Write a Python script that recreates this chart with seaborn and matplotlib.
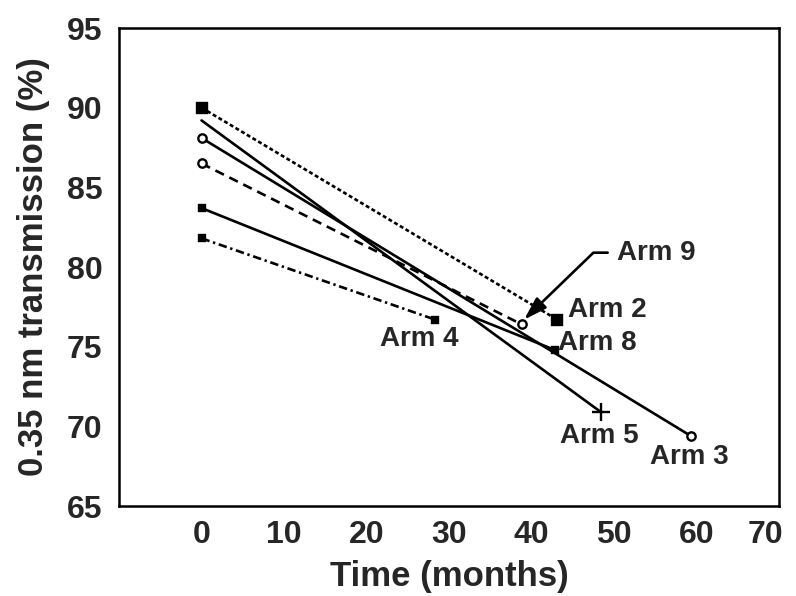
import pandas as pd
import matplotlib
matplotlib.use("Agg")
import matplotlib.pyplot as plt
import matplotlib.transforms as mtransforms
import seaborn as sns

# values
arms = ["Arm 2", "Arm 5", "Arm 3", "Arm 9", "Arm 8", "Arm 4"]
t_start = [0, 0, 0, 0, 0, 0]
t_end = [43.1, 48.4, 59.3, 38.8, 42.8, 28.3]
y_start = [90.0, 89.2, 88.1, 86.5, 83.7, 81.8]
y_end = [76.7, 70.9, 69.4, 76.4, 74.8, 76.7]

x_ticks = [0, 10, 20, 30, 40, 50, 60, 70]
y_ticks = [65, 70, 75, 80, 85, 90, 95]

# label positions (data coords, left edge of text)
label_x = [44.4, 43.5, 54.4, 50.3, 43.2, 21.6]
label_y = [77.3, 69.4, 68.1, 80.9, 75.2, 75.5]

df = pd.DataFrame({
    "arm": arms * 2,
    "time": t_start + t_end,
    "trans": y_start + y_end,
})

sns.set_style("white")
plt.rcParams["font.family"] = ["Liberation Sans", "DejaVu Sans"]
plt.rcParams["font.weight"] = "bold"

styles = {
    "Arm 2": dict(linestyle=(0, (1.5, 1.0)), marker="s", markersize=7, mfc="black", markevery=None),
    "Arm 5": dict(linestyle="-", marker="+", markersize=13, mfc="black", markevery=[1]),
    "Arm 3": dict(linestyle="-", marker="o", markersize=6, mfc="white", markevery=None),
    "Arm 9": dict(linestyle=(0, (3.6, 2.3)), marker="o", markersize=6, mfc="white", markevery=None),
    "Arm 8": dict(linestyle="-", marker="s", markersize=4, mfc="black", markevery=None),
    "Arm 4": dict(linestyle=(0, (3.2, 1.4, 0.9, 1.4)), marker="s", markersize=4, mfc="black", markevery=None),
}

fig, ax = plt.subplots(figsize=(7.96, 5.96), dpi=100)
fig.subplots_adjust(left=0.1495, right=0.9787, top=0.953, bottom=0.151)

for arm in arms:
    st = styles[arm]
    sub = df[df["arm"] == arm]
    sns.lineplot(data=sub, x="time", y="trans", ax=ax, color="black",
                 linewidth=1.9, linestyle=st["linestyle"], marker=st["marker"],
                 markersize=st["markersize"], markerfacecolor=st["mfc"],
                 markeredgecolor="black", markeredgewidth=1.7,
                 markevery=st["markevery"], estimator=None, legend=False)

for name, lx, ly in zip(arms, label_x, label_y):
    if name == "Arm 9":
        i = arms.index(name)
        ax.annotate(name, xy=(t_end[i] + 0.3, y_end[i] + 0.3), xytext=(lx, ly),
                    fontsize=20, fontweight="bold", ha="left", va="center",
                    arrowprops=dict(arrowstyle="-|>,head_length=0.7,head_width=0.22",
                                    color="black", lw=1.9, relpos=(0, 0.5),
                                    shrinkA=4, shrinkB=0,
                                    connectionstyle="angle,angleA=0,angleB=44,rad=0"))
    else:
        ax.text(lx, ly, name, fontsize=20, fontweight="bold", ha="left", va="center")

ax.set_xlim(-10, 70)
ax.set_ylim(65, 95)
ax.set_xticks(x_ticks)
ax.set_yticks(y_ticks)
ax.tick_params(direction="in", length=11, width=1.5, labelsize=23, pad=10)
ax.tick_params(axis="y", pad=12)
for lab in ax.get_xticklabels() + ax.get_yticklabels():
    lab.set_fontweight("bold")
# keep the last x tick label inside the figure, as in the scan
last = ax.get_xticklabels()[-1]
last.set_transform(last.get_transform() + mtransforms.ScaledTranslation(-10 / 72, 0, fig.dpi_scale_trans))
for sp in ax.spines.values():
    sp.set_visible(True)
    sp.set_color("black")
    sp.set_linewidth(1.8)

ax.set_xlabel("Time (months)", fontsize=25, fontweight="bold", labelpad=7)
ax.set_ylabel("0.35 nm transmission (%)", fontsize=25, fontweight="bold", labelpad=12)

fig.savefig("out.png", dpi=100)
